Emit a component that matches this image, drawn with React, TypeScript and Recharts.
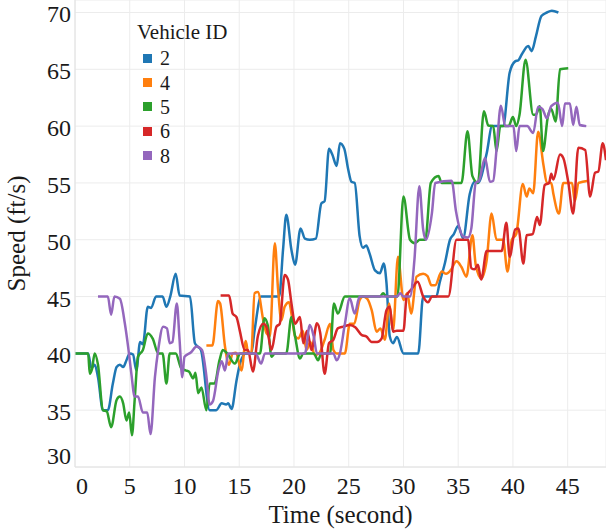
import React from 'react';
import { LineChart, Line, XAxis, YAxis, CartesianGrid, Legend } from 'recharts';

const SERIF = '"Liberation Serif", "Times New Roman", serif';

const vehicleIds = ['2', '4', '5', '6', '8'];
const vehicleColors = ['#1f77b4', '#ff7f0e', '#2ca02c', '#d62728', '#9467bd'];
const xTicks = [0, 5, 10, 15, 20, 25, 30, 35, 40, 45];
const yTicks = [30, 35, 40, 45, 50, 55, 60, 65, 70];

// [time (s), speed (ft/s)]
const vehicle2: [number, number][] = [
  [0, 40], [1.2, 40], [1.5, 38.7], [1.8, 39], [2.1, 37.9], [2.55, 35], [3.0, 35], [3.45, 37.3],
  [3.8, 38.8], [4.1, 39], [4.4, 38.8], [4.7, 39.4], [5.0, 40], [5.3, 39.9], [5.6, 38.5], [5.95, 41],
  [6.2, 40.8], [6.65, 44.1], [6.95, 44], [7.4, 45], [8.0, 45], [8.35, 44.1], [8.7, 45], [9.2, 47],
  [9.55, 45.1], [10.5, 45], [10.95, 40.9], [11.2, 40.6], [11.5, 40.3], [12.3, 35], [12.9, 35],
  [13.4, 35.6], [13.8, 35.5], [14.0, 35.6], [14.3, 35.1], [14.75, 37.6], [15.1, 39.2], [15.6, 40],
  [16.1, 40], [16.4, 42], [17.0, 45], [18.65, 45], [19.0, 49.1], [19.3, 52.2], [19.77, 49.1],
  [20.1, 47.8], [20.6, 51], [21.0, 50.1], [21.45, 50], [22.0, 50.1], [22.5, 53.2], [22.8, 53.4],
  [23.2, 58], [23.5, 57.5], [23.9, 56.5], [24.2, 58.5], [24.6, 58], [24.95, 56.2], [25.25, 55.1],
  [25.55, 55], [26.0, 50.3], [26.3, 49.3], [26.6, 49.5], [26.9, 48.8], [27.4, 47.3], [27.85, 47.05],
  [28.2, 47.9], [28.45, 46.2], [28.75, 41.5], [29.05, 40.9], [29.4, 41.45], [30, 40], [31.35, 40],
  [31.8, 45], [33, 45], [33.3, 46.2], [33.8, 48], [34.25, 50], [34.6, 50.5], [35, 51.2],
  [35.45, 50.15], [36.05, 54], [36.5, 55.1], [36.8, 55], [37.6, 57.6], [38.1, 60], [39.1, 60],
  [39.7, 64.7], [40.2, 65.7], [40.5, 65.8], [40.8, 66.3], [41.4, 67.05], [41.7, 66.6], [42.1, 67.9],
  [42.6, 69.7], [43.1, 70], [43.55, 70.15], [44.15, 70],
];

const vehicle4: [number, number][] = [
  [12, 40.7], [12.55, 40.7], [13.06, 44.6], [13.25, 44.4], [13.7, 40.6], [14.07, 39], [14.4, 40],
  [14.7, 40.05], [15.2, 38.5], [15.6, 41.1], [15.8, 40.1], [16.1, 40], [16.4, 45.3], [16.7, 45.4],
  [17.2, 42.9], [17.5, 41.75], [17.8, 41.5], [18.25, 49.7], [18.55, 45.6], [18.85, 42.9],
  [19.15, 44.1], [19.55, 44.5], [19.8, 43.3], [20.1, 41.5], [20.4, 41.3], [20.8, 42], [21.15, 40.3],
  [21.5, 41], [21.9, 39.85], [22.3, 40], [22.8, 41.2], [23.3, 42.6], [23.6, 40.3], [23.9, 40],
  [24.65, 40], [25.1, 42.6], [25.5, 42.6], [26.0, 44.7], [26.3, 45], [26.7, 44.8], [27.1, 43.8],
  [27.55, 41.9], [27.9, 42.2], [28.3, 41.2], [28.7, 44.4], [29.05, 42], [29.5, 48.5], [30, 44.7],
  [30.35, 45.3], [30.7, 43.5], [31.2, 46.75], [31.8, 47], [32.2, 46.8], [32.55, 46], [32.9, 46],
  [33.5, 47.2], [33.9, 47], [34.3, 47.3], [34.85, 48.1], [35.3, 47.6], [35.75, 46.75], [36.3, 50.4],
  [36.6, 47.8], [37.1, 46.6], [37.6, 48.2], [38.05, 52.3], [38.5, 50], [39.1, 50], [39.5, 47.2],
  [39.9, 50], [40.3, 50.5], [40.9, 54.9], [41.25, 53.8], [41.5, 54.5], [41.85, 54.1], [42.3, 59.5],
  [42.8, 56.5], [43.1, 55], [43.5, 55], [43.7, 54], [44.2, 52.3], [44.6, 55], [45.4, 55],
  [45.65, 53.4], [46, 55], [46.9, 55.2],
];

const vehicle5: [number, number][] = [
  [0, 40], [1.2, 40], [1.35, 38.2], [1.55, 38.6], [1.8, 40], [2.1, 39], [2.55, 35], [2.9, 34.9],
  [3.3, 33.5], [3.8, 35.9], [4.1, 36.2], [4.4, 35.6], [4.7, 34.1], [4.95, 34.8], [5.2, 32.8],
  [5.45, 35.9], [5.75, 39.7], [6.2, 40.3], [6.65, 41.75], [7.1, 41.3], [7.6, 40], [8.0, 40],
  [8.35, 37.35], [8.65, 40], [9.2, 40], [9.7, 38.7], [10.1, 38.5], [10.4, 38.4], [10.8, 37.8],
  [11.0, 38.3], [11.25, 36.5], [11.55, 37], [12.0, 35], [12.3, 37.35], [12.75, 37.35], [13.2, 39.4],
  [13.5, 40.3], [13.9, 40], [14.6, 39.1], [15.1, 40], [16.9, 40], [17.3, 43.1], [17.6, 42.5],
  [17.95, 39.7], [18.25, 40], [19.3, 40], [19.77, 43.2], [20.1, 41.5], [20.55, 39.55], [20.85, 40],
  [21.8, 40], [22.2, 39.4], [22.5, 40], [23.3, 40], [23.65, 44.4], [24.0, 43.5], [24.65, 45],
  [27.85, 45], [28.15, 45.3], [28.45, 45], [29.45, 45], [30.0, 53.8], [30.6, 50], [31.05, 49.7],
  [31.5, 50], [32.0, 50], [32.5, 55], [33.2, 55.6], [33.5, 55], [35.3, 55], [35.85, 59.55],
  [36.3, 55.6], [36.8, 55], [37.35, 61.3], [37.75, 60.05], [38.2, 60], [38.5, 57.8], [38.85, 60],
  [39.6, 60], [40, 60.8], [40.3, 60], [40.6, 61], [41.15, 65.85], [41.85, 61], [42.1, 61],
  [42.45, 61.75], [42.75, 57.8], [43.2, 60.9], [43.5, 61.5], [43.9, 60.4], [44.3, 65], [45.05, 65.1],
];

const vehicle6: [number, number][] = [
  [13.3, 45.1], [14.07, 45.1], [14.4, 43.5], [14.75, 43.2], [15.05, 42], [15.5, 40.3], [15.8, 40.3],
  [16.25, 38.4], [16.7, 41.5], [17.2, 42.6], [17.5, 42.3], [17.95, 40.3], [18.4, 42.35], [18.7, 42.6],
  [19.15, 46.9], [19.45, 46.5], [19.77, 44.4], [20.1, 42.6], [20.55, 43.2], [20.85, 40.9], [21.2, 42],
  [21.6, 40.3], [22.1, 42.65], [22.4, 41.8], [22.8, 38.2], [23.2, 40.9], [23.6, 41.2], [24.0, 42.2],
  [24.5, 42.35], [25.1, 42.5], [25.6, 42.3], [26.2, 41.6], [26.6, 41.5], [27.1, 41], [27.6, 41],
  [28.0, 41.3], [28.45, 43.8], [28.75, 44.1], [29.05, 41.9], [29.4, 42], [30, 42], [30.3, 45.1],
  [30.7, 45.6], [31.3, 46.3], [31.8, 45], [32.25, 44.5], [32.6, 45], [34.1, 45], [34.85, 50],
  [35.9, 50], [36.2, 47.5], [36.5, 47.4], [36.8, 47.8], [37.1, 46.5], [37.6, 49], [38.97, 49],
  [39.4, 51.5], [39.7, 48.5], [40.2, 50.9], [40.5, 51], [40.95, 47.9], [41.25, 50.4], [41.8, 50.5],
  [42.2, 52], [42.45, 51.3], [42.9, 54.8], [43.3, 55], [43.5, 55.8], [43.7, 55.3], [44.3, 57.5],
  [44.6, 57.2], [45.05, 55.1], [45.5, 52.3], [45.97, 58.1], [46.6, 57.9], [47.05, 53.8], [47.5, 55.9],
  [47.8, 56], [48.2, 58.5], [48.5, 57],
];

const vehicle8: [number, number][] = [
  [2.1, 45], [3.0, 45], [3.3, 43.4], [3.6, 45], [4.1, 44.8], [4.55, 42.65], [4.85, 40.6], [5.15, 38.2],
  [5.45, 36.2], [5.75, 36.2], [6.2, 34.8], [6.6, 34.8], [6.9, 32.9], [7.3, 37.9], [7.6, 40.3],
  [8.05, 42.35], [8.4, 42.2], [8.65, 40.9], [8.9, 41], [9.3, 44.4], [9.55, 41.2], [9.8, 37.9],
  [10.0, 39.7], [10.6, 40.1], [11.1, 40.6], [11.6, 40.3], [12.0, 38], [12.3, 35.5], [12.6, 35.8],
  [13.1, 38.5], [13.4, 39.3], [13.7, 38.5], [14.0, 40], [16.5, 40], [17.0, 39.1], [17.35, 40],
  [21.0, 40], [21.45, 42.5], [21.8, 41.5], [22.1, 40], [23.6, 40], [23.9, 39.4], [24.2, 40],
  [24.65, 42.6], [25.1, 44.85], [25.55, 43.5], [26.0, 45], [29.4, 45], [29.7, 45.3], [30.0, 45],
  [30.6, 45], [31.0, 48.2], [31.45, 54.7], [31.8, 50.9], [32.05, 50], [32.6, 52.35], [32.9, 55],
  [34.4, 55.2], [34.8, 52.5], [35.45, 50.3], [35.9, 50.2], [36.2, 51], [36.6, 55], [36.9, 55.2],
  [37.45, 57.2], [37.9, 55.1], [38.2, 55.2], [38.5, 57.9], [38.9, 61.8], [39.3, 60], [40.05, 60],
  [40.3, 57.8], [40.6, 60], [41.3, 60], [41.85, 59.4], [42.3, 61.7], [42.7, 61.5], [43.1, 60.7],
  [43.5, 61.75], [44.1, 62.05], [44.5, 60], [44.75, 62], [45.2, 62], [45.5, 60.1], [45.8, 61.7],
  [46.1, 60.1], [46.7, 60],
];

const seriesPoints = [vehicle2, vehicle4, vehicle5, vehicle6, vehicle8];

const toRows = (pts: [number, number][]) => pts.map(([t, v]) => ({ t, v }));

const textStyle = { fontFamily: SERIF, fill: '#1a1a1a' };

const XTick = ({ x, y, payload }: any) => (
  <text
    x={x + (payload.value === 0 ? 7 : 0)}
    y={y + 27}
    textAnchor="middle"
    style={{ ...textStyle, fontSize: 24 }}
  >
    {payload.value}
  </text>
);

const YTick = ({ x, y, payload }: any) => (
  <text
    x={x - 4}
    y={y + 10 - (payload.value === 30 ? 13 : 0)}
    textAnchor="end"
    style={{ ...textStyle, fontSize: 24 }}
  >
    {payload.value}
  </text>
);

const XTitle = ({ viewBox }: any) => (
  <text
    x={viewBox.x + viewBox.width / 2}
    y={viewBox.y + viewBox.height - 8}
    textAnchor="middle"
    style={{ ...textStyle, fontSize: 25 }}
  >
    Time (second)
  </text>
);

const YTitle = ({ viewBox }: any) => {
  const cx = 25;
  const cy = viewBox.y + viewBox.height / 2;
  return (
    <text
      x={cx}
      y={cy}
      transform={`rotate(-90, ${cx}, ${cy})`}
      textAnchor="middle"
      style={{ ...textStyle, fontSize: 25 }}
    >
      Speed (ft/s)
    </text>
  );
};

const LegendBox = () => (
  <div style={{ fontFamily: SERIF, color: '#1a1a1a' }}>
    <div style={{ fontSize: 21, lineHeight: '24px', whiteSpace: 'nowrap' }}>Vehicle ID</div>
    <div style={{ marginTop: 2 }}>
      {vehicleIds.map((id, i) => (
        <div key={id} style={{ display: 'flex', alignItems: 'center', height: 24.4, marginLeft: 6 }}>
          <span style={{ display: 'inline-block', width: 9, height: 9, background: vehicleColors[i], marginRight: 8 }} />
          <span style={{ fontSize: 20, lineHeight: '24px' }}>{id}</span>
        </div>
      ))}
    </div>
  </div>
);

export default function App() {
  return (
    <div style={{ width: 606, height: 531, fontFamily: SERIF }}>
      <style>{'body{margin:0}'}</style>
      <LineChart width={606} height={531} margin={{ top: 0, right: 0, bottom: 0, left: 0 }}>
        <CartesianGrid stroke="#ececec" strokeWidth={1} />
        <XAxis
          type="number"
          dataKey="t"
          domain={[0, 48.5]}
          ticks={xTicks}
          allowDataOverflow
          height={64}
          tickSize={0}
          tickMargin={0}
          tickLine={false}
          axisLine={{ stroke: '#e2e2e2' }}
          tick={<XTick />}
          label={<XTitle />}
        />
        <YAxis
          type="number"
          domain={[30, 71.1]}
          ticks={yTicks}
          allowDataOverflow
          width={75}
          tickSize={0}
          tickMargin={0}
          tickLine={false}
          axisLine={{ stroke: '#e2e2e2' }}
          tick={<YTick />}
          label={<YTitle />}
        />
        <Legend
          layout="vertical"
          align="center"
          verticalAlign="middle"
          wrapperStyle={{ left: 137, top: 20, width: 'auto' }}
          content={() => <LegendBox />}
        />
        {seriesPoints.map((pts, i) => (
          <Line
            key={vehicleIds[i]}
            name={vehicleIds[i]}
            data={toRows(pts)}
            dataKey="v"
            type="monotone"
            stroke={vehicleColors[i]}
            strokeWidth={2.5}
            dot={false}
            activeDot={false}
            isAnimationActive={false}
          />
        ))}
      </LineChart>
    </div>
  );
}
